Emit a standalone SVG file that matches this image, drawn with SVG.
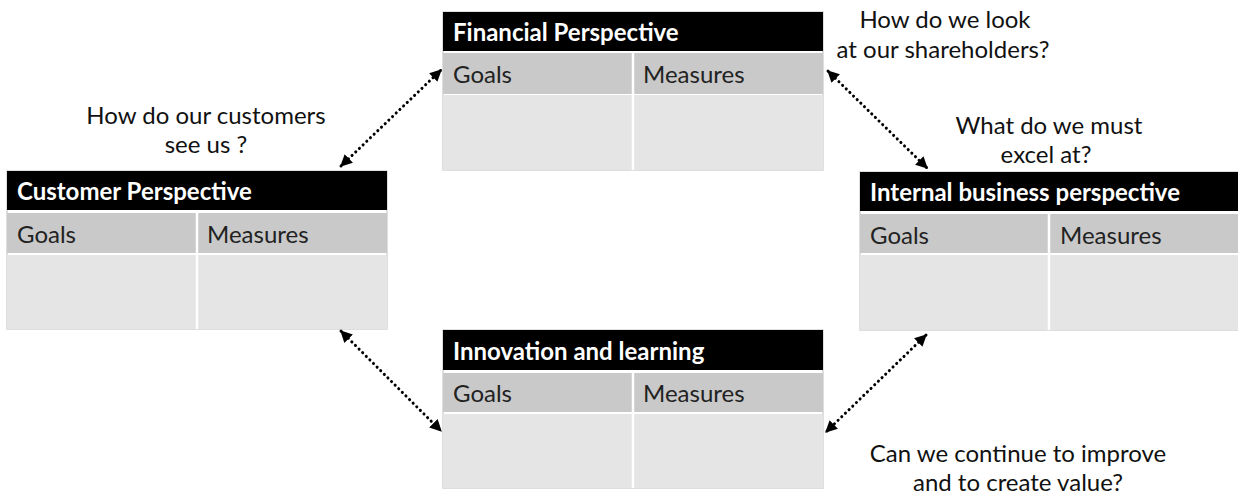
<svg xmlns="http://www.w3.org/2000/svg" width="1238" height="500" viewBox="0 0 1238 500">
<style>
.hdr{fill:#000}
.row{fill:#c9c9c9}
.body{fill:#e5e5e5}
.frame{fill:#fff;stroke:#d4d4d4;stroke-width:1.5}
.sep{stroke:#fff;stroke-width:2.5}
.ht{font-family:Lato,"Liberation Sans",sans-serif;font-weight:bold;font-size:24px;fill:#fff}
.ct{font-family:Lato,"Liberation Sans",sans-serif;font-size:24px;fill:#222}
.q{font-family:Lato,"Liberation Sans",sans-serif;font-size:24px;fill:#111;text-anchor:middle}
.con{stroke:#000;stroke-width:3;stroke-dasharray:0.1 5;stroke-linecap:round;fill:none}
</style>
<defs>
<marker id="ah" viewBox="0 0 10 10" refX="9" refY="5" markerWidth="4" markerHeight="4" orient="auto-start-reverse" markerUnits="strokeWidth">
<path d="M0,0 L10,5 L0,10 z" fill="#000"/>
</marker>
</defs>

<g id="financial">
<rect class="frame" x="443" y="12" width="380" height="158"/>
<rect class="hdr" x="443" y="12" width="380" height="39"/>
<rect class="row" x="443" y="53" width="380" height="41"/>
<rect class="body" x="443" y="95" width="380" height="75"/>
<line class="sep" x1="633" y1="53" x2="633" y2="170"/>
<text class="ht" x="453" y="41">Financial Perspective</text>
<text class="ct" x="453" y="83">Goals</text>
<text class="ct" x="643" y="83">Measures</text>
</g>

<g id="customer">
<rect class="frame" x="7" y="171" width="380" height="158"/>
<rect class="hdr" x="7" y="171" width="380" height="39"/>
<rect class="row" x="7" y="213" width="380" height="40"/>
<rect class="body" x="7" y="255" width="380" height="74"/>
<line class="sep" x1="197" y1="213" x2="197" y2="329"/>
<text class="ht" x="17" y="200">Customer Perspective</text>
<text class="ct" x="17" y="243">Goals</text>
<text class="ct" x="207" y="243">Measures</text>
</g>

<g id="internal">
<rect class="frame" x="860" y="172" width="380" height="158"/>
<rect class="hdr" x="860" y="172" width="380" height="39"/>
<rect class="row" x="860" y="214" width="380" height="39"/>
<rect class="body" x="860" y="255" width="380" height="75"/>
<line class="sep" x1="1049" y1="214" x2="1049" y2="330"/>
<text class="ht" x="870" y="201">Internal business perspective</text>
<text class="ct" x="870" y="244">Goals</text>
<text class="ct" x="1060" y="244">Measures</text>
</g>

<g id="innovation">
<rect class="frame" x="443" y="330" width="380" height="158"/>
<rect class="hdr" x="443" y="330" width="380" height="40"/>
<rect class="row" x="443" y="373" width="380" height="39"/>
<rect class="body" x="443" y="414" width="380" height="74"/>
<line class="sep" x1="633" y1="373" x2="633" y2="488"/>
<text class="ht" x="453" y="360">Innovation and learning</text>
<text class="ct" x="453" y="402">Goals</text>
<text class="ct" x="643" y="402">Measures</text>
</g>

<g id="connectors">
<line class="con" x1="341" y1="166" x2="441" y2="70" marker-start="url(#ah)" marker-end="url(#ah)"/>
<line class="con" x1="828" y1="71" x2="927" y2="168" marker-start="url(#ah)" marker-end="url(#ah)"/>
<line class="con" x1="341" y1="331" x2="441" y2="431" marker-start="url(#ah)" marker-end="url(#ah)"/>
<line class="con" x1="926" y1="335" x2="826" y2="432" marker-start="url(#ah)" marker-end="url(#ah)"/>
</g>

<g id="labels">
<text class="q" x="206" y="124">How do our customers</text>
<text class="q" x="206" y="153">see us ?</text>
<text class="q" x="945" y="28">How do we look</text>
<text class="q" x="943" y="58">at our shareholders?</text>
<text class="q" x="1049" y="134">What do we must</text>
<text class="q" x="1046" y="163">excel at?</text>
<text class="q" x="1018" y="462">Can we continue to improve</text>
<text class="q" x="1018" y="491">and to create value?</text>
</g>
</svg>
